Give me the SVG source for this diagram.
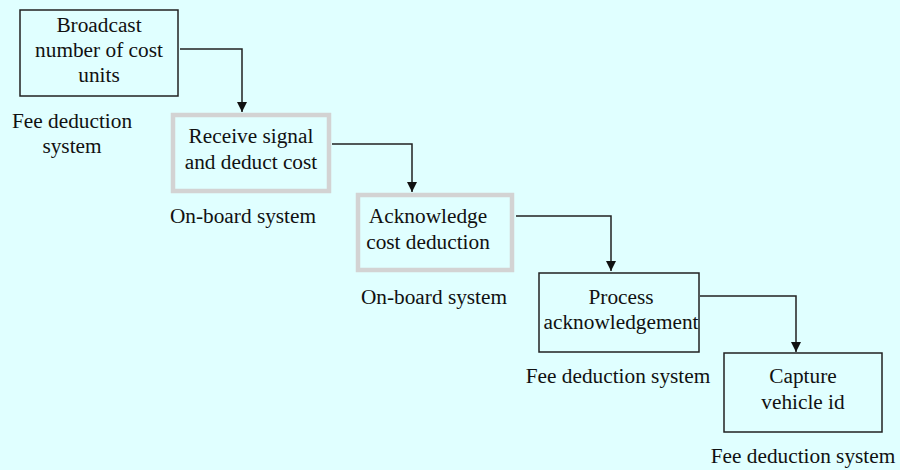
<svg xmlns="http://www.w3.org/2000/svg" width="900" height="470" viewBox="0 0 900 470">
<defs>
<style>
.bg{fill:#E0FFFF}
.box{fill:none;stroke:#222;stroke-width:1.5}
.gbox{fill:none;stroke:#D3D3D3;stroke-width:4.5}
.t{font-family:"Liberation Serif","Times New Roman",serif;font-size:21.3px;fill:#111;text-anchor:middle}
.c{fill:none;stroke:#222;stroke-width:1.5}
</style>
<marker id="ah" viewBox="0 0 10 10" refX="10" refY="5" markerWidth="10" markerHeight="10" markerUnits="userSpaceOnUse" orient="auto">
<path d="M0,0 L10,5 L0,10 Z" fill="#111"/>
</marker>
</defs>
<rect class="bg" x="0" y="0" width="900" height="470"/>
<g id="n1">
<rect class="box" x="20" y="10" width="158" height="86"/>
<text class="t" x="99" y="32">Broadcast</text>
<text class="t" x="99" y="57">number of cost</text>
<text class="t" x="99" y="82">units</text>
</g>
<g id="l1">
<text class="t" x="72" y="128">Fee deduction</text>
<text class="t" x="72" y="153">system</text>
</g>
<g id="n2">
<rect class="gbox" x="173" y="115" width="156" height="76"/>
<text class="t" x="251" y="143">Receive signal</text>
<text class="t" x="251" y="169">and deduct cost</text>
</g>
<g id="l2">
<text class="t" x="243" y="223">On-board system</text>
</g>
<g id="n3">
<rect class="gbox" x="358" y="195" width="154" height="75"/>
<text class="t" x="428" y="223">Acknowledge</text>
<text class="t" x="428" y="249">cost deduction</text>
</g>
<g id="l3">
<text class="t" x="434" y="304">On-board system</text>
</g>
<g id="n4">
<rect class="box" x="539" y="273" width="160" height="79"/>
<text class="t" x="621" y="304">Process</text>
<text class="t" x="621" y="329">acknowledgement</text>
</g>
<g id="l4">
<text class="t" x="618" y="383">Fee deduction system</text>
</g>
<g id="n5">
<rect class="box" x="724" y="353" width="158" height="79"/>
<text class="t" x="803" y="383">Capture</text>
<text class="t" x="803" y="409">vehicle id</text>
</g>
<g id="l5">
<text class="t" x="803" y="463">Fee deduction system</text>
</g>
<g id="connectors">
<path class="c" d="M180,49 H242 V112" marker-end="url(#ah)"/>
<path class="c" d="M332,144 H412 V192" marker-end="url(#ah)"/>
<path class="c" d="M516,216 H611 V271" marker-end="url(#ah)"/>
<path class="c" d="M700,296 H796 V352" marker-end="url(#ah)"/>
</g>
</svg>
